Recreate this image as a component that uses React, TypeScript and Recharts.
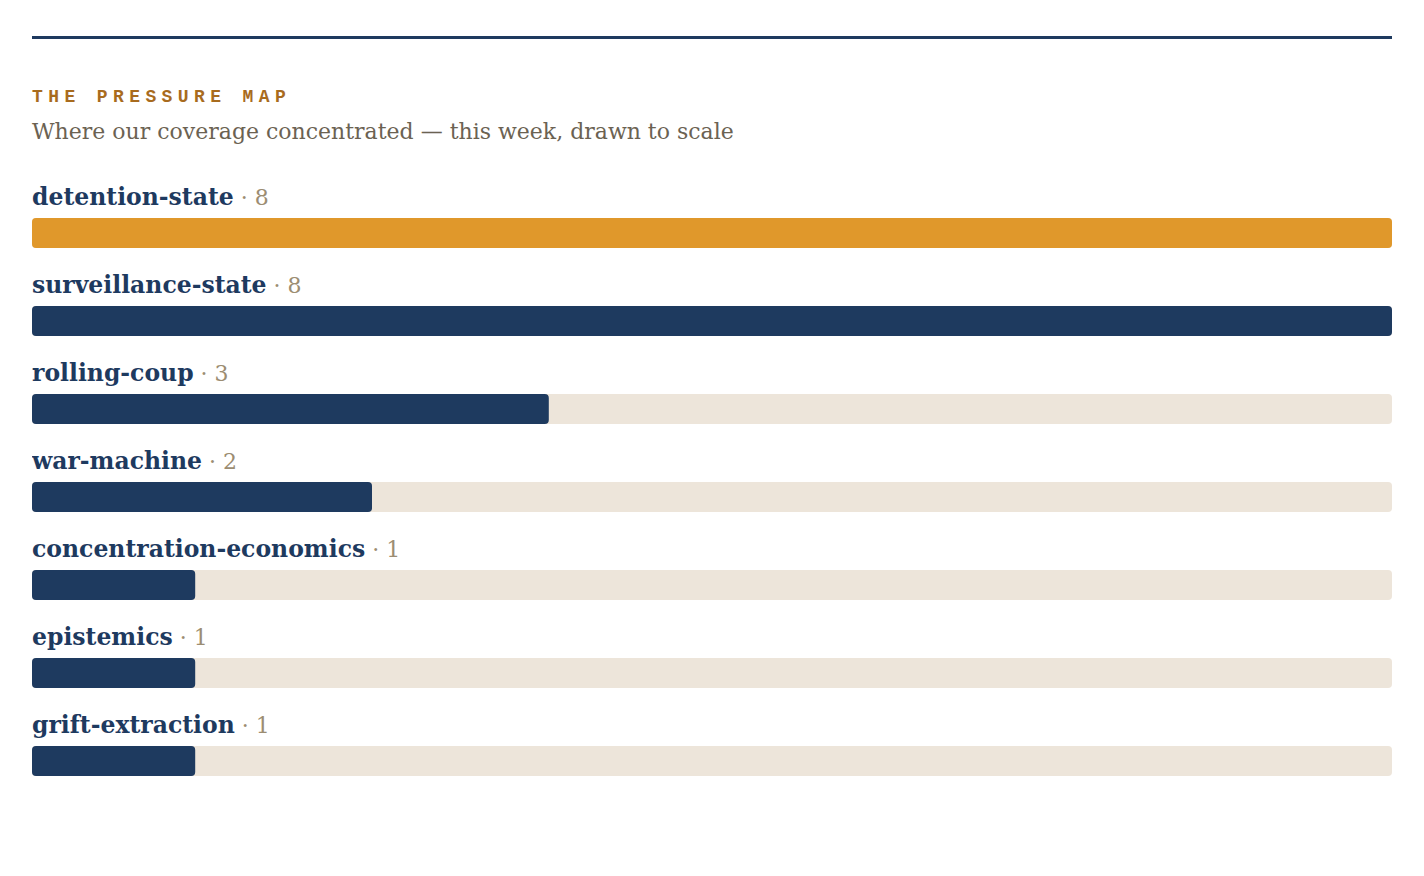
import React from "react";
import { BarChart, Bar, XAxis, YAxis, Cell, LabelList } from "recharts";

const categories = [
  "detention-state",
  "surveillance-state",
  "rolling-coup",
  "war-machine",
  "concentration-economics",
  "epistemics",
  "grift-extraction",
];
const counts = [8, 8, 3, 2, 1, 1, 1];
// bar length as drawn, percent of the track
const shares = [100, 100, 38, 25, 12, 12, 12];
const highlightIndex = 0;

const NAVY = "#1e3a5f";
const ORANGE = "#e0982b";
const TRACK = "#ede5da";
const TAN = "#9c8d72";
const SERIF = "Georgia, 'DejaVu Serif', 'Liberation Serif', serif";

const data = categories.map((name, i) => ({ name, share: shares[i], count: counts[i] }));

const RowLabel = (props: any) => {
  const { x, y, value } = props;
  const idx = categories.indexOf(value);
  return (
    <text x={x} y={y - 13} fontFamily={SERIF} fontSize={23.5}>
      <tspan fontWeight={700} fill={NAVY}>{value}</tspan>
      <tspan fill={TAN} fontWeight={400} fontSize={22}>{" · " + counts[idx]}</tspan>
    </text>
  );
};

export default function App() {
  return (
    <div style={{ position: "relative", width: 1424, height: 876, margin: -8, background: "#fff" }}>
      <div style={{ position: "absolute", left: 32, top: 36, width: 1360, height: 3, background: NAVY }} />
      <div
        style={{
          position: "absolute",
          left: 32,
          top: 86,
          fontFamily: "'Liberation Mono', 'Courier New', monospace",
          fontWeight: 700,
          fontSize: 18,
          letterSpacing: "0.3em",
          color: "#a86b1e",
          lineHeight: "22px",
          whiteSpace: "nowrap",
        }}
      >
        THE PRESSURE MAP
      </div>
      <div
        style={{
          position: "absolute",
          left: 32,
          top: 117,
          fontFamily: SERIF,
          fontSize: 22,
          color: "#6b6252",
          lineHeight: "30px",
          whiteSpace: "nowrap",
        }}
      >
        Where our coverage concentrated — this week, drawn to scale
      </div>
      <div style={{ position: "absolute", left: 32, top: 149 }}>
        <BarChart
          width={1360}
          height={656}
          data={data}
          layout="vertical"
          margin={{ top: 40, right: 0, bottom: 0, left: 0 }}
          barSize={30}
        >
          <XAxis type="number" domain={[0, 100]} hide />
          <YAxis type="category" dataKey="name" hide width={0} />
          <Bar
            dataKey="share"
            isAnimationActive={false}
            radius={4}
            background={{ fill: TRACK, radius: 4 }}
          >
            {data.map((d, i) => (
              <Cell key={d.name} fill={i === highlightIndex ? ORANGE : NAVY} />
            ))}
            <LabelList dataKey="name" content={RowLabel} />
          </Bar>
        </BarChart>
      </div>
    </div>
  );
}
